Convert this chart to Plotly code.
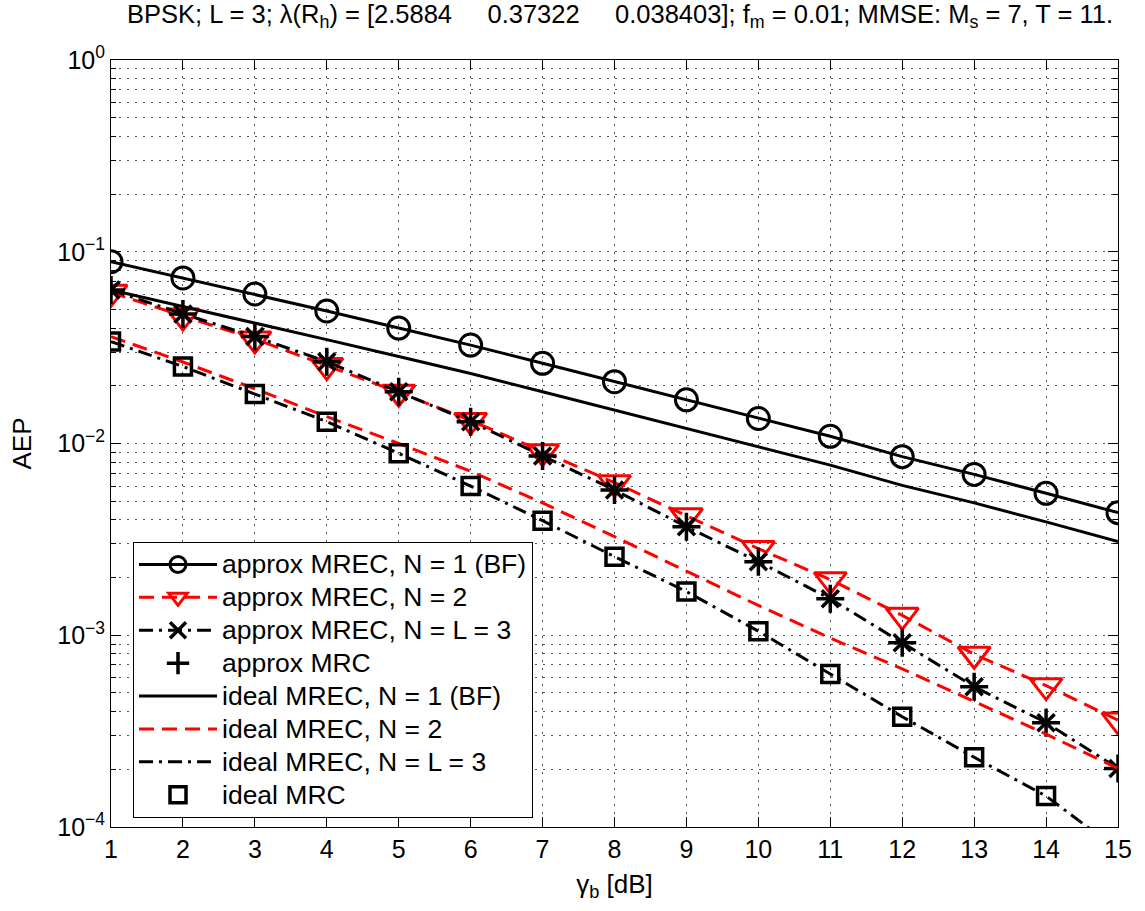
import numpy as np
import plotly.graph_objects as go

# ---------------- data ----------------
gamma_b_db = list(range(1, 16))

approx_mrec_n1 = [0.0887, 0.0730, 0.0602, 0.0491, 0.0400, 0.0326, 0.0262, 0.0210,
                  0.0169, 0.0135, 0.0109, 0.00854, 0.00690, 0.00550, 0.00436]
approx_mrec_n2 = [0.0614, 0.0462, 0.0351, 0.0255, 0.0185, 0.0132, 0.00906, 0.00625,
                  0.00420, 0.00283, 0.00195, 0.00127, 0.000796, 0.000546, 0.000361]
approx_mrec_n3 = [0.0632, 0.0474, 0.0361, 0.0267, 0.0186, 0.0130, 0.00861, 0.00572,
                  0.00368, 0.00242, 0.00155, 0.000915, 0.000539, 0.000350, 0.000202]
approx_mrc = [0.0632, 0.0474, 0.0361, 0.0267, 0.0186, 0.0130, 0.00861, 0.00572,
              0.00368, 0.00242, 0.00155, 0.000915, 0.000539, 0.000350, 0.000202]
ideal_mrec_n1 = [0.0632, 0.0518, 0.0428, 0.0348, 0.0284, 0.0232, 0.0186, 0.0149,
                 0.0120, 0.00960, 0.00771, 0.00605, 0.00490, 0.00390, 0.00308]
ideal_mrec_n2 = [0.0361, 0.0266, 0.0193, 0.0138, 0.0100, 0.00716, 0.00490, 0.00327,
                 0.00216, 0.00143, 0.000966, 0.000668, 0.000452, 0.000305, 0.000202]
ideal_mrec_n3 = [0.0340, 0.0252, 0.0181, 0.0130, 0.00889, 0.00600, 0.00396, 0.00257,
                 0.00169, 0.00105, 0.000628, 0.000376, 0.000231, 0.000145, 0.0000760]
ideal_mrc = [0.0340, 0.0252, 0.0181, 0.0130, 0.00889, 0.00600, 0.00396, 0.00257,
             0.00169, 0.00105, 0.000628, 0.000376, 0.000231, 0.000145, 0.0000760]

y_tick_vals = [1e-4, 1e-3, 1e-2, 1e-1, 1e0]
y_tick_text = ["10<sup>\u22124</sup>", "10<sup>\u22123</sup>", "10<sup>\u22122</sup>",
               "10<sup>\u22121</sup>", "10<sup>0</sup>"]
x_tick_vals = list(range(1, 16))

series_names = ["approx MREC, N = 1 (BF)", "approx MREC, N = 2", "approx MREC, N = L = 3",
                "approx MRC", "ideal MREC, N = 1 (BF)", "ideal MREC, N = 2",
                "ideal MREC, N = L = 3", "ideal MRC"]

# ---------------- styling ----------------
FONT = "Liberation Sans, Arial, sans-serif"
RED = "#FF0000"
BLACK = "#000000"
LW = 3
DASH = "15px,8px"
DASHDOT = "14px,6px,3px,6px"
Y_MIN = 1e-4
LEGEND_TEXT_PX = 26.5


def visible(vals):
    # markers that fall below the axis floor are not drawn (as in the original)
    return [v if v >= Y_MIN else None for v in vals]


def lname(s):
    return '<span style="font-size:%spx">%s</span>' % (LEGEND_TEXT_PX, s)


fig = go.Figure()

fig.add_trace(go.Scatter(
    x=gamma_b_db, y=approx_mrec_n1, name=lname(series_names[0]), mode="lines+markers",
    line=dict(color=BLACK, width=LW),
    marker=dict(symbol="circle-open", size=22, color=BLACK, line=dict(width=LW, color=BLACK))))
fig.add_trace(go.Scatter(
    x=gamma_b_db, y=approx_mrec_n2, name=lname(series_names[1]), mode="lines+markers",
    line=dict(color=RED, width=LW, dash=DASH),
    marker=dict(symbol="triangle-down-open", size=28, color=RED, line=dict(width=LW, color=RED))))
fig.add_trace(go.Scatter(
    x=gamma_b_db, y=approx_mrec_n3, name=lname(series_names[2]), mode="lines+markers",
    line=dict(color=BLACK, width=LW, dash=DASHDOT),
    marker=dict(symbol="x-thin-open", size=17, color=BLACK, line=dict(width=LW + 0.5, color=BLACK))))
fig.add_trace(go.Scatter(
    x=gamma_b_db, y=approx_mrc, name=lname(series_names[3]), mode="markers",
    marker=dict(symbol="cross-thin-open", size=20, color=BLACK, line=dict(width=LW + 0.5, color=BLACK))))
fig.add_trace(go.Scatter(
    x=gamma_b_db, y=ideal_mrec_n1, name=lname(series_names[4]), mode="lines",
    line=dict(color=BLACK, width=LW)))
fig.add_trace(go.Scatter(
    x=gamma_b_db, y=ideal_mrec_n2, name=lname(series_names[5]), mode="lines",
    line=dict(color=RED, width=LW, dash=DASH)))
fig.add_trace(go.Scatter(
    x=gamma_b_db, y=ideal_mrec_n3, name=lname(series_names[6]), mode="lines",
    line=dict(color=BLACK, width=LW, dash=DASHDOT)))
fig.add_trace(go.Scatter(
    x=gamma_b_db, y=visible(ideal_mrc), name=lname(series_names[7]), mode="markers",
    marker=dict(symbol="square-open", size=17, color=BLACK, line=dict(width=LW + 0.5, color=BLACK))))

grid_common = dict(gridcolor="#555555", gridwidth=1, griddash="2px,6px")
NB = "\u00a0" * 5

fig.update_layout(
    width=1145, height=911,
    margin=dict(l=111, r=27, t=60, b=84),
    paper_bgcolor="white", plot_bgcolor="white",
    font=dict(family=FONT, size=25, color=BLACK),
    title=dict(
        text=("BPSK; L = 3; \u03bb(R<sub>h</sub>) = [2.5884" + NB + "0.37322" + NB +
              "0.038403]; f<sub>m</sub> = 0.01; MMSE: M<sub>s</sub> = 7, T = 11."),
        x=(620 - 111) / 1007, xref="paper", xanchor="center",
        y=1 - 14 / 911, yref="container", yanchor="middle",
        font=dict(family=FONT, size=25.5, color=BLACK)),
    xaxis=dict(
        range=[1, 15], tickvals=x_tick_vals, ticks="inside", ticklen=10, tickwidth=1,
        tickcolor=BLACK, showline=True, linecolor=BLACK, linewidth=1, mirror="ticks",
        showgrid=True, zeroline=False,
        tickfont=dict(family=FONT, size=25, color=BLACK),
        title=dict(text="\u03b3<sub>b</sub> [dB]", font=dict(family=FONT, size=26, color=BLACK),
                   standoff=12),
        **grid_common),
    yaxis=dict(
        type="log", range=[-4, 0], tickvals=y_tick_vals, ticktext=y_tick_text,
        ticks="inside", ticklen=10, tickwidth=1, tickcolor=BLACK,
        showline=True, linecolor=BLACK, linewidth=1, mirror="ticks",
        showgrid=True, zeroline=False,
        tickfont=dict(family=FONT, size=25, color=BLACK),
        title=dict(text="AEP", font=dict(family=FONT, size=26, color=BLACK), standoff=18),
        minor=dict(dtick="D1", ticks="inside", ticklen=5, tickcolor=BLACK,
                   showgrid=True, **grid_common),
        **grid_common),
    legend=dict(
        x=(133 - 111) / 1007, y=(827 - 542) / 767, xanchor="left", yanchor="top",
        bgcolor="white", bordercolor=BLACK, borderwidth=1,
        font=dict(family=FONT, size=23, color=BLACK),
        itemwidth=78, tracegroupgap=0),
    showlegend=True,
)

fig.write_html("out.html")
